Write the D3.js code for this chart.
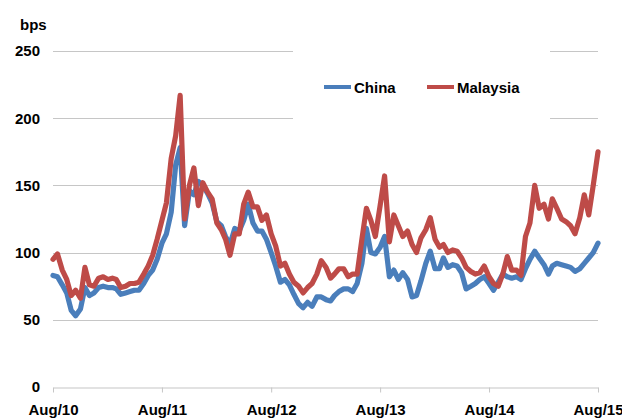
<!DOCTYPE html>
<html><head><meta charset="utf-8">
<script src="https://cdn.jsdelivr.net/npm/d3@7"></script>
<style>
html,body{margin:0;padding:0;background:#fff;}
svg{display:block;font-family:"Liberation Sans",Arial,sans-serif;font-weight:bold;}
</style></head>
<body><svg id="c" width="622" height="419"></svg>
<script>
const dates = [
"2010-08-01","2010-08-16","2010-09-01","2010-09-16","2010-10-01","2010-10-16","2010-11-01","2010-11-16","2010-12-01","2010-12-16",
"2011-01-01","2011-01-16","2011-02-01","2011-02-16","2011-03-01","2011-03-16","2011-04-01","2011-04-16","2011-05-01","2011-05-16","2011-06-01","2011-06-16","2011-07-01","2011-07-16",
"2011-08-01","2011-08-16","2011-09-01","2011-09-16","2011-10-01","2011-10-16","2011-11-01","2011-11-16","2011-12-01","2011-12-16",
"2012-01-01","2012-01-16","2012-02-01","2012-02-16","2012-03-01","2012-03-16","2012-04-01","2012-04-16","2012-05-01","2012-05-16","2012-06-01","2012-06-16","2012-07-01","2012-07-16",
"2012-08-01","2012-08-16","2012-09-01","2012-09-16","2012-10-01","2012-10-16","2012-11-01","2012-11-16","2012-12-01","2012-12-16",
"2013-01-01","2013-01-16","2013-02-01","2013-02-16","2013-03-01","2013-03-16","2013-04-01","2013-04-16","2013-05-01","2013-05-16","2013-06-01","2013-06-16","2013-07-01","2013-07-16",
"2013-08-01","2013-08-16","2013-09-01","2013-09-16","2013-10-01","2013-10-16","2013-11-01","2013-11-16","2013-12-01","2013-12-16",
"2014-01-01","2014-01-16","2014-02-01","2014-02-16","2014-03-01","2014-03-16","2014-04-01","2014-04-16","2014-05-01","2014-05-16","2014-06-01","2014-06-16","2014-07-01","2014-07-16",
"2014-08-01","2014-08-16","2014-09-01","2014-09-16","2014-10-01","2014-10-16","2014-11-01","2014-11-16","2014-12-01","2014-12-16",
"2015-01-01","2015-01-16","2015-02-01","2015-02-16","2015-03-01","2015-03-16","2015-04-01","2015-04-16","2015-05-01","2015-05-16","2015-06-01","2015-06-16","2015-07-01","2015-07-16",
"2015-08-01"];

const china = [
83,82,76,70,57,53,58,74,68,70, 74,75,74,74,73,69,70,71,72,72,77,83,87,95,
107,114,130,165,178,120,146,143,153,150, 144,137,123,120,112,106,118,116,124,136,122,116,116,110,
100,90,78,80,76,69,62,59,63,60, 67,67,65,64,68,71,73,73,71,77,92,118,100,99,
104,112,82,87,80,85,80,67,68,79, 92,101,88,88,96,89,91,90,85,73,75,77,80,82,
77,72,78,84,82,81,82,80,88,95, 101,96,91,84,90,92,91,90,89,86,88,92,96,100,
107];

const malaysia = [
95,99,87,80,68,72,66,89,76,75, 81,82,80,81,80,74,75,77,77,78,84,90,98,110,
124,137,170,187,217,125,150,163,135,152, 145,140,122,117,110,98,114,114,136,145,134,134,124,128,
114,105,90,92,84,78,75,70,74,77, 84,94,89,81,84,88,88,82,84,84,110,133,124,112,
135,157,108,128,120,112,116,106,100,111, 117,126,110,104,106,100,102,101,96,89,86,84,85,90,
82,77,75,84,97,87,87,83,112,122, 150,133,136,125,140,133,125,123,120,114,126,143,128,150,
175];

const yTicks = [0,50,100,150,200,250];
const xTickDates = ["2010-08-01","2011-08-01","2012-08-01","2013-08-01","2014-08-01","2015-08-01"];
const xTickLabels = ["Aug/10","Aug/11","Aug/12","Aug/13","Aug/14","Aug/15"];
const seriesNames = ["China","Malaysia"];
const seriesColors = ["#4A7EBB","#BE4B48"];

(function draw() {
  const parse = d3.timeParse("%Y-%m-%d");
  const svg = d3.select("#c");
  const pL = 53, pR = 598, pT = 51, pB = 387;
  const FONT = '"Liberation Sans", Arial, sans-serif';

  const x = d3.scaleTime().domain([parse(dates[0]), parse(dates[dates.length-1])]).range([pL, pR]);
  const y = d3.scaleLinear().domain([0, 250]).range([pB, pT]);

  // gridlines
  svg.append("g").selectAll("line").data(yTicks.filter(d => d > 0)).join("line")
    .attr("x1", pL).attr("x2", pR)
    .attr("y1", d => Math.round(y(d)) + 0.5).attr("y2", d => Math.round(y(d)) + 0.5)
    .attr("stroke", "#c6c6c6").attr("stroke-width", 1.2);

  // x axis
  const xAxis = d3.axisBottom(x)
    .tickValues(xTickDates.map(parse))
    .tickFormat((d, i) => xTickLabels[i])
    .tickSizeInner(5).tickSizeOuter(0).tickPadding(12);
  const gx = svg.append("g").attr("transform", `translate(0,${Math.round(pB)+0.5})`).call(xAxis);
  gx.select(".domain").attr("stroke", "#c6c6c6").attr("stroke-width", 1.2);
  gx.selectAll(".tick line").attr("stroke", "#c6c6c6");
  gx.selectAll(".tick text").attr("font-size", 15).attr("font-weight", "bold")
    .attr("font-family", FONT).attr("fill", "#000");

  // y axis labels
  const yAxis = d3.axisLeft(y).tickValues(yTicks).tickSize(0).tickPadding(13);
  const gy = svg.append("g").attr("transform", `translate(${pL},0)`).call(yAxis);
  gy.select(".domain").remove();
  gy.selectAll(".tick text").attr("font-size", 15).attr("font-weight", "bold")
    .attr("font-family", FONT).attr("fill", "#000");

  // unit label
  svg.append("text").attr("x", 20).attr("y", 30).attr("font-size", 15).text("bps");

  // lines
  [china, malaysia].forEach((vals, si) => {
    const line = d3.line().x((d, i) => x(parse(dates[i]))).y(d => y(d));
    svg.append("path").datum(vals).attr("d", line)
      .attr("fill", "none").attr("stroke", seriesColors[si])
      .attr("stroke-width", 5.2).attr("stroke-linejoin", "round").attr("stroke-linecap", "round");
  });

  // legend
  const lg = svg.append("g");
  lg.append("rect").attr("x", 293).attr("y", 40).attr("width", 257).attr("height", 90).attr("fill", "#fff");
  const legendX = [324, 427];
  seriesNames.forEach((name, i) => {
    lg.append("line").attr("x1", legendX[i]).attr("x2", legendX[i] + 27)
      .attr("y1", 87).attr("y2", 87).attr("stroke", seriesColors[i]).attr("stroke-width", 4);
    lg.append("text").attr("x", legendX[i] + 30).attr("y", 92.5).attr("font-size", 15).text(name);
  });
})();
</script></body></html>
